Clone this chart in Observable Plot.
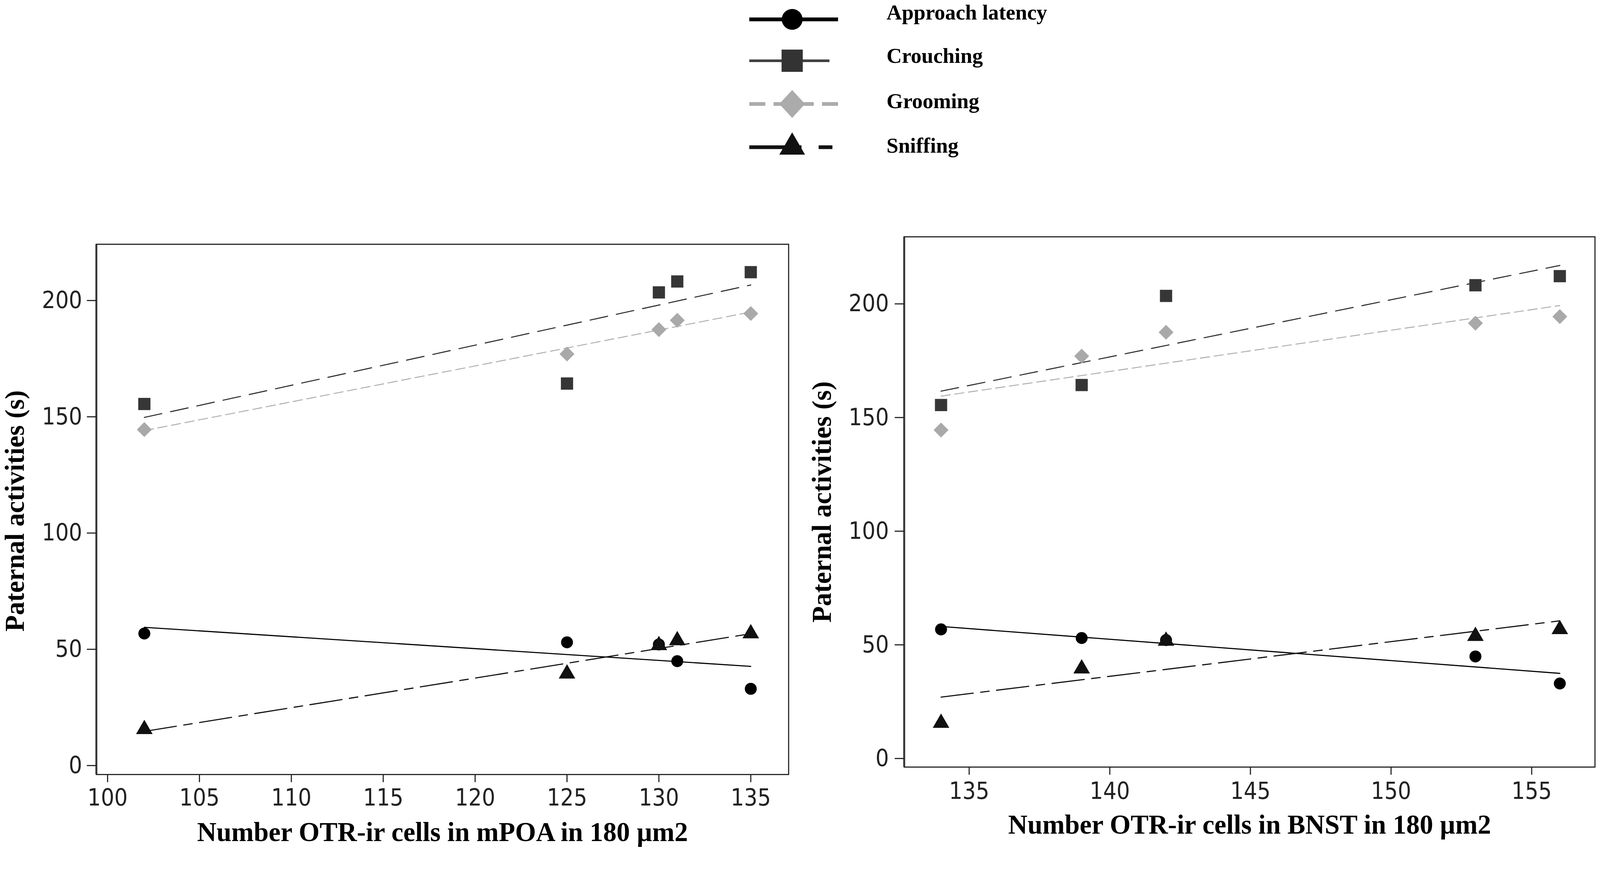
<!DOCTYPE html>
<html>
<head>
<meta charset="utf-8">
<script src="https://cdn.jsdelivr.net/npm/d3@7"></script>
<script src="https://cdn.jsdelivr.net/npm/@observablehq/plot@0.6"></script>
<style>
  html, body { margin: 0; padding: 0; background: #fff; overflow: hidden; }
  #root { position: relative; width: 4292px; height: 2287px; overflow: hidden; background: #fff; transform-origin: 0 0; }
  #root > svg { position: absolute; }
</style>
</head>
<body>
<div id="root"></div>
<script>
// ---------- data ----------
const seriesNames = ["Approach latency", "Crouching", "Grooming", "Sniffing"];
const mpoaCells = [102, 125, 130, 131, 135];
const bnstCells = [134, 139, 142, 153, 156];
const approachLatency = [56.8, 53.0, 52.1, 44.9, 33.0];
const crouching = [155.5, 164.3, 203.5, 208.2, 212.2];
const grooming = [144.5, 177.0, 187.5, 191.5, 194.4];
const sniffing = [15.6, 39.5, 51.7, 53.8, 56.8];
const yTicks = [0, 50, 100, 150, 200];
const mpoaTicks = [100, 105, 110, 115, 120, 125, 130, 135];
const bnstTicks = [135, 140, 145, 150, 155];
const xLabels = ["Number OTR-ir cells in mPOA in 180 \u00b5m2", "Number OTR-ir cells in BNST in 180 \u00b5m2"];
const yLabel = "Paternal activities (s)";

const seriesValues = [approachLatency, crouching, grooming, sniffing];

// ---------- styles ----------
const serif = "'Liberation Serif', 'Times New Roman', serif";
const sans = "'DejaVu Sans Condensed', 'DejaVu Sans', sans-serif";
const styles = {
  "Approach latency": {symbol: "circle", r: 16, fill: "#000000", line: "#000000", lw: 3, dash: undefined},
  "Crouching": {symbol: "square", r: 18.5, fill: "#363636", line: "#2e2e2e", lw: 2.8, dash: "48,24"},
  "Grooming": {symbol: "diamond2", r: 18, fill: "#a9a9a9", line: "#acacac", lw: 2.5, dash: "25,12"},
  "Sniffing": {symbol: "triangle", r: 16.5, fill: "#111111", line: "#111111", lw: 3, dash: "87,20,23,20"}
};

function rows(cells) {
  return seriesNames.flatMap((s, i) => cells.map((c, j) => ({series: s, cells: c, value: seriesValues[i][j]})));
}

function panel({cells, xTicks, xDomain, yDomain, xLabel, width, height, marginLeft, marginRight, marginTop, marginBottom, xPad, yPad, yTitleDx, yTitleDy, xTitleDy}) {
  const data = rows(cells);
  const marks = [];
  for (const s of seriesNames) {
    const st = styles[s];
    marks.push(Plot.linearRegressionY(data.filter(d => d.series === s), {
      x: "cells", y: "value", ci: 0,
      stroke: st.line, strokeWidth: st.lw, strokeDasharray: st.dash
    }));
  }
  for (const s of seriesNames) {
    const st = styles[s];
    marks.push(Plot.dot(data.filter(d => d.series === s), {
      x: "cells", y: "value", symbol: st.symbol, r: st.r, fill: st.fill, stroke: "none"
    }));
  }
  marks.push(Plot.ruleX([xDomain[0]], {stroke: "#7c7c7c", strokeWidth: 6}));
  marks.push(Plot.frame({stroke: "#222", strokeWidth: 3}));
  marks.push(Plot.axisY(yTicks, {
    tickSize: 25, tickPadding: yPad, fontSize: 63, fontFamily: sans, color: "#222",
    strokeWidth: 3, label: null
  }));
  marks.push(Plot.axisX(xTicks, {
    tickSize: 21, tickPadding: xPad, fontSize: 63, fontFamily: sans, color: "#222",
    strokeWidth: 3, label: null
  }));
  marks.push(Plot.text([xLabel], {
    text: d => d, frameAnchor: "bottom", lineAnchor: "bottom", textAnchor: "middle", dy: xTitleDy,
    fontFamily: serif, fontWeight: "bold", fontSize: 72, fill: "#000"
  }));
  marks.push(Plot.text([yLabel], {
    text: d => d, frameAnchor: "left", lineAnchor: "bottom", textAnchor: "middle", rotate: -90,
    dx: yTitleDx, dy: yTitleDy,
    fontFamily: serif, fontWeight: "bold", fontSize: 72, fill: "#000"
  }));
  return Plot.plot({
    width, height, marginLeft, marginRight, marginTop, marginBottom,
    x: {domain: xDomain, label: null},
    y: {domain: yDomain, label: null},
    style: {fontFamily: sans, background: "transparent", overflow: "visible", color: "#222"},
    marks
  });
}

const root = document.getElementById("root");

const left = panel({
  cells: mpoaCells, xTicks: mpoaTicks, xDomain: [99.39, 137.06], yDomain: [-3.85, 224.2],
  xLabel: xLabels[0], width: 2150, height: 1687,
  marginLeft: 258, marginRight: 35, marginTop: 55, marginBottom: 209,
  xPad: 18, yPad: 13, yTitleDx: -195, yTitleDy: 4, xTitleDy: 179
});
left.style.left = "0px"; left.style.top = "600px";
root.appendChild(left);

const right = panel({
  cells: bnstCells, xTicks: bnstTicks, xDomain: [132.69, 157.25], yDomain: [-3.77, 229.5],
  xLabel: xLabels[1], width: 2142, height: 1707,
  marginLeft: 275, marginRight: 14, marginTop: 55, marginBottom: 229,
  xPad: 20, yPad: 16, yTitleDx: -197, yTitleDy: 0, xTitleDy: 179
});
right.style.left = "2150px"; right.style.top = "580px";
root.appendChild(right);

// ---------- legend ----------
const legendLayout = {
  "Approach latency": {y: 52, x2: 2248, lw: 10, color: "#000", dash: null, size: 2463, sym: d3.symbolCircle, sx: 1, sy: 1, textY: 52},
  "Crouching": {y: 163, x2: 2225, lw: 7, color: "#404040", dash: null, size: 3364, sym: d3.symbolSquare, sx: 0.98, sy: 1.03, textY: 169, symFill: "#333"},
  "Grooming": {y: 279, x2: 2248, lw: 10, color: "#ababab", dash: "43,22", size: 3306, sym: d3.symbolDiamond2, sx: 0.96, sy: 1.04, textY: 290},
  "Sniffing": {y: 395, x2: 2233, lw: 10, color: "#111", dash: "140,46,37,400", size: 2058, sym: d3.symbolTriangle, sx: 1, sy: 1, textY: 410}
};
const legend = d3.create("svg")
  .attr("width", 4292).attr("height", 470)
  .style("left", "0px").style("top", "0px");
for (const s of seriesNames) {
  const L = legendLayout[s];
  const g = legend.append("g");
  g.append("line")
    .attr("x1", 2010).attr("x2", L.x2).attr("y1", L.y).attr("y2", L.y)
    .attr("stroke", L.color).attr("stroke-width", L.lw)
    .attr("stroke-dasharray", L.dash);
  g.append("path")
    .attr("d", d3.symbol(L.sym, L.size)())
    .attr("transform", `translate(2125,${L.y}) scale(${L.sx},${L.sy})`)
    .attr("fill", L.symFill || L.color);
  g.append("text")
    .attr("x", 2378).attr("y", L.textY)
    .attr("font-family", serif).attr("font-weight", "bold").attr("font-size", 57)
    .attr("fill", "#000")
    .text(s);
}
root.appendChild(legend.node());

// fit the 4292x2287 drawing into the actual viewport
function fit() {
  const w = window.innerWidth || document.documentElement.clientWidth || 4292;
  const h = window.innerHeight || document.documentElement.clientHeight || 2287;
  const s = Math.min(w / 4292, h / 2287);
  root.style.transform = `scale(${s})`;
}
fit();
window.addEventListener("resize", fit);
</script>
</body>
</html>
